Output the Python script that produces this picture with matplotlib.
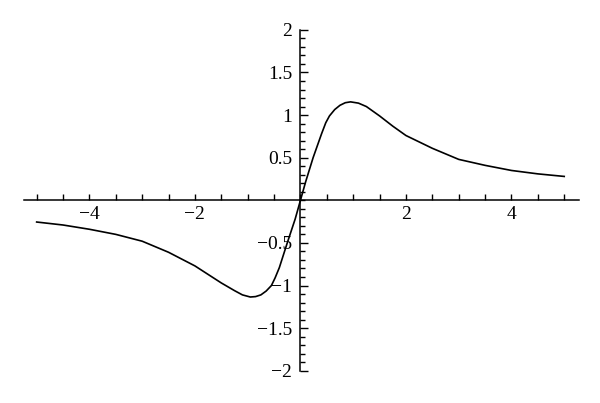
import matplotlib
matplotlib.use('Agg')
import matplotlib.pyplot as plt

# curve values
x_vals = [-5, -4.5, -4, -3.5, -3, -2.5, -2, -1.75, -1.5, -1.25, -1.1, -0.95, -0.85, -0.75,
          -0.65, -0.55, -0.48, -0.4, -0.25, -0.1, 0, 0.1, 0.24, 0.4, 0.48, 0.55, 0.65,
          0.75, 0.85, 0.95, 1.1, 1.25, 1.5, 1.75, 2, 2.5, 3, 3.5, 4, 4.5, 5]
y_vals = [-0.255, -0.29, -0.34, -0.4, -0.48, -0.61, -0.77, -0.87, -0.97, -1.06, -1.11, -1.135, -1.13, -1.11,
          -1.065, -1.0, -0.91, -0.79, -0.5, -0.22, 0, 0.22, 0.5, 0.78, 0.91, 0.99, 1.065,
          1.115, 1.145, 1.155, 1.14, 1.1, 0.99, 0.87, 0.76, 0.61, 0.48, 0.41, 0.35, 0.31, 0.28]

x_ticks = [-4, -2, 2, 4]
x_labels = ['\u22124', '\u22122', '2', '4']
y_ticks = [-2, -1.5, -1, -0.5, 0.5, 1, 1.5, 2]
y_labels = ['\u22122', '\u22121.5', '\u22121', '\u22120.5', '0.5', '1', '1.5', '2']

plt.rcParams['font.family'] = ['Liberation Serif', 'DejaVu Serif']

fig = plt.figure(figsize=(6, 4.03), dpi=100)
ax = fig.add_axes([0.04, 0.0695, 0.925, 0.867])

ax.plot(x_vals, y_vals, color='black', lw=1.2)

ax.set_xlim(-5.24, 5.28)
ax.set_ylim(-2.05, 2.05)

for s in ['top', 'right']:
    ax.spines[s].set_visible(False)
ax.spines['left'].set_position(('data', 0))
ax.spines['bottom'].set_position(('data', 0))
ax.spines['left'].set_bounds(-2, 2)
for s in ['left', 'bottom']:
    ax.spines[s].set_linewidth(1.1)

ax.set_xticks(x_ticks)
ax.set_xticklabels(x_labels)
ax.set_xticks([v / 2 for v in range(-10, 11)], minor=True)
ax.set_yticks(y_ticks)
ax.set_yticklabels(y_labels)
ax.set_yticks([v / 10 for v in range(-20, 21)], minor=True)

ax.tick_params(axis='x', which='both', direction='in', length=4.5, width=1, labelsize=14, pad=4)
ax.tick_params(axis='y', which='major', direction='in', length=6, width=1, labelsize=14, pad=6)
ax.tick_params(axis='y', which='minor', direction='in', length=3.5, width=1)

fig.savefig('out.png', dpi=100)
